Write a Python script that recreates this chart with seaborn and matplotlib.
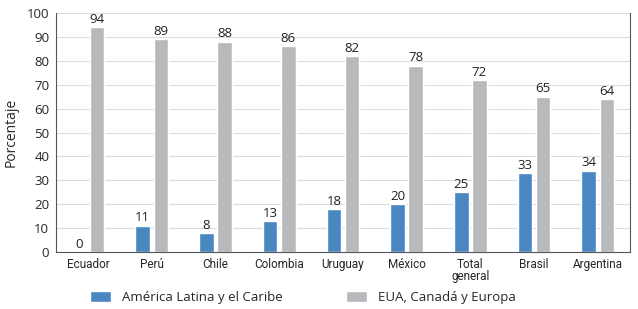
import pandas as pd
import seaborn as sns
import matplotlib.pyplot as plt
from matplotlib.ticker import FixedLocator

paises = ['Ecuador', 'Perú', 'Chile', 'Colombia', 'Uruguay', 'México',
          'Total\ngeneral', 'Brasil', 'Argentina']
latam = [0, 11, 8, 13, 18, 20, 25, 33, 34]
eua = [94, 89, 88, 86, 82, 78, 72, 65, 64]
series = ['América Latina y el Caribe', 'EUA, Canadá y Europa']
colores = ['#4a86c0', '#b8b9bd']

df = pd.DataFrame({
    'pais': paises * 2,
    'valor': latam + eua,
    'grupo': [series[0]] * len(paises) + [series[1]] * len(paises),
})

sns.set_style('white')
plt.rcParams['font.family'] = ['Open Sans', 'DejaVu Sans']

fig = plt.figure(figsize=(6.38, 3.09), dpi=100)
ax = fig.add_axes([0.088, 0.184, 0.899, 0.774])

sns.barplot(data=df, x='pais', y='valor', hue='grupo', order=paises,
            hue_order=series, palette=colores, width=0.57, gap=0.2,
            saturation=1, ax=ax)

for cont in ax.containers:
    ax.bar_label(cont, fmt='%d', padding=1, fontsize=9.5, color='#222222')

ax.set_ylim(0, 100)
ax.set_xlim(-0.5, len(paises) - 0.5)
ax.set_yticks(range(0, 101, 10))
ax.yaxis.grid(True, color='#dcdcdc', linewidth=0.8)
ax.set_axisbelow(True)
ax.set_xlabel('')
ax.set_ylabel('Porcentaje', fontsize=10, labelpad=6)

ax.spines['top'].set_visible(False)
for s in ['left', 'bottom', 'right']:
    ax.spines[s].set_color('#555555')
    ax.spines[s].set_linewidth(0.8)

ax.tick_params(axis='y', labelsize=9.5, length=3, width=0.8, color='#555555', pad=2)
ax.tick_params(axis='x', which='major', length=0, pad=4)
ax.xaxis.set_minor_locator(FixedLocator([i + 0.5 for i in range(-1, len(paises))]))
ax.tick_params(axis='x', which='minor', length=4, width=0.8, color='#555555')
for lab in ax.get_xticklabels():
    lab.set_fontfamily(['Roboto', 'DejaVu Sans'])
    lab.set_fontsize(8.5)
    lab.set_linespacing(0.95)

ax.legend(loc='center', bbox_to_anchor=(0.43, -0.19), ncol=2, frameon=False,
          fontsize=9.5, handlelength=1.6, handleheight=0.8, columnspacing=4.8,
          handletextpad=0.8)

fig.savefig('out.png', dpi=100)
